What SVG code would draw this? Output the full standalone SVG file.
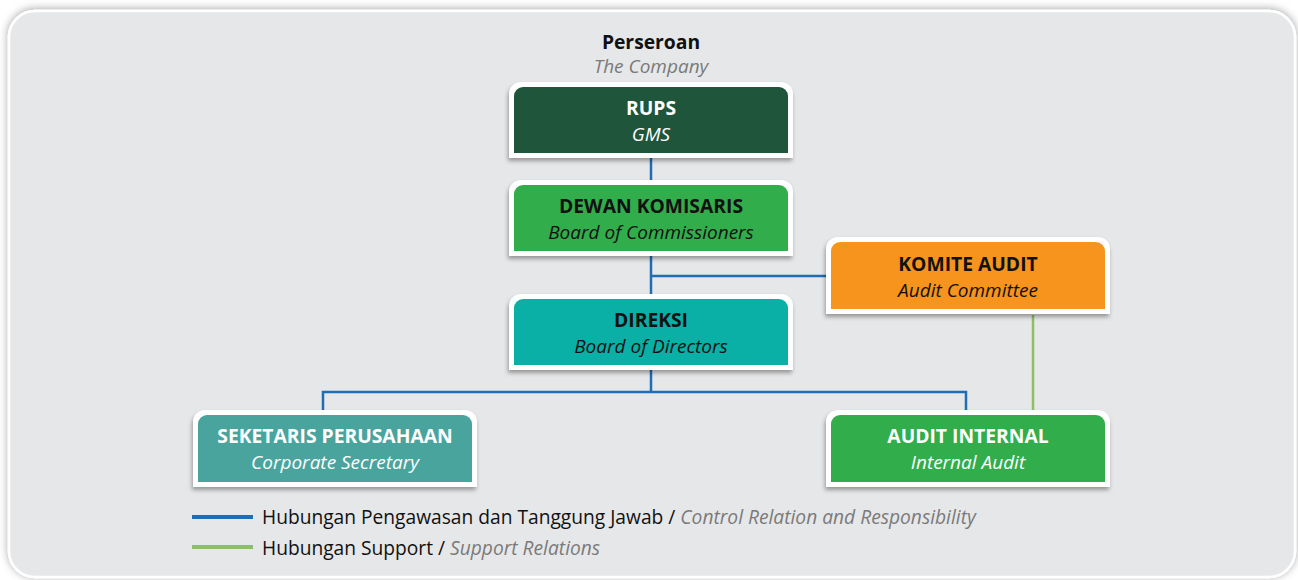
<svg xmlns="http://www.w3.org/2000/svg" width="1298" height="580" viewBox="0 0 1298 580">
<defs>
<filter id="panelShadow" x="-5%" y="-5%" width="110%" height="110%">
<feDropShadow dx="0" dy="-1" stdDeviation="4" flood-color="#000" flood-opacity="0.35"/>
</filter>
<filter id="boxShadow" x="-10%" y="-10%" width="120%" height="130%">
<feDropShadow dx="-1" dy="3" stdDeviation="2" flood-color="#000" flood-opacity="0.35"/>
</filter>
<style>
.title{font-family:"Open Sans","Noto Sans",sans-serif;font-weight:bold;font-size:19.3px;text-anchor:middle}
.sub{font-family:"Open Sans","Noto Sans",sans-serif;font-style:italic;font-size:19px;text-anchor:middle}
.white{fill:#ffffff}
.black{fill:#111111}
.outer{fill:#ffffff;filter:url(#boxShadow)}
.blue{stroke:#1f6db5;stroke-width:2.5;fill:none}
.green{stroke:#8dc063;stroke-width:2.5;fill:none}
.legend{font-family:"Open Sans","Noto Sans",sans-serif;font-size:19.2px;fill:#111111}
.legendEn{font-style:italic;fill:#7a7a7a}
</style>
</defs>
<rect width="1298" height="580" fill="#ffffff"/>
<rect x="9" y="11" width="1286" height="566" rx="26" ry="26" fill="#e6e7e8" stroke="#ffffff" stroke-width="2.5" filter="url(#panelShadow)"/>

<g id="header">
<text x="651" y="49" class="title black">Perseroan</text>
<text x="651" y="73" class="sub" fill="#7a7a7a">The Company</text>
</g>

<g id="connectors">
<path class="blue" d="M651 158 V180"/>
<path class="blue" d="M651 256 V294 M651 276 H826"/>
<path class="blue" d="M651 370 V392 M323 410 V392 H966 V410"/>
<path class="green" d="M1033 315 V410"/>
</g>

<g id="rups">
<path class="outer" d="M509 158 V94 A12 12 0 0 1 521 82 H781 A12 12 0 0 1 793 94 V158 Z"/>
<path fill="#1f553b" d="M514 153 V96 A9 9 0 0 1 523 87 H779 A9 9 0 0 1 788 96 V153 Z"/>
<text x="651" y="115" class="title white">RUPS</text>
<text x="651" y="141" class="sub white">GMS</text>
</g>

<g id="dewan-komisaris">
<path class="outer" d="M509 256 V192 A12 12 0 0 1 521 180 H781 A12 12 0 0 1 793 192 V256 Z"/>
<path fill="#31ad4b" d="M514 251 V194 A9 9 0 0 1 523 185 H779 A9 9 0 0 1 788 194 V251 Z"/>
<text x="651" y="213" class="title black">DEWAN KOMISARIS</text>
<text x="651" y="239" class="sub black">Board of Commissioners</text>
</g>

<g id="komite-audit">
<path class="outer" d="M826 314 V249 A12 12 0 0 1 838 237 H1098 A12 12 0 0 1 1110 249 V314 Z"/>
<path fill="#f7941d" d="M831 309 V251 A9 9 0 0 1 840 242 H1096 A9 9 0 0 1 1105 251 V309 Z"/>
<text x="968" y="271" class="title black">KOMITE AUDIT</text>
<text x="968" y="297" class="sub black">Audit Committee</text>
</g>

<g id="direksi">
<path class="outer" d="M509 370 V306 A12 12 0 0 1 521 294 H781 A12 12 0 0 1 793 306 V370 Z"/>
<path fill="#0aafa5" d="M514 365 V308 A9 9 0 0 1 523 299 H779 A9 9 0 0 1 788 308 V365 Z"/>
<text x="651" y="327" class="title black">DIREKSI</text>
<text x="651" y="353" class="sub black">Board of Directors</text>
</g>

<g id="sekretaris-perusahaan">
<path class="outer" d="M193 487 V422 A12 12 0 0 1 205 410 H465 A12 12 0 0 1 477 422 V487 Z"/>
<path fill="#4aa49e" d="M198 482 V424 A9 9 0 0 1 207 415 H463 A9 9 0 0 1 472 424 V482 Z"/>
<text x="335" y="443" class="title white">SEKETARIS PERUSAHAAN</text>
<text x="335" y="469" class="sub white">Corporate Secretary</text>
</g>

<g id="audit-internal">
<path class="outer" d="M826 487 V422 A12 12 0 0 1 838 410 H1098 A12 12 0 0 1 1110 422 V487 Z"/>
<path fill="#31ad4b" d="M831 482 V424 A9 9 0 0 1 840 415 H1096 A9 9 0 0 1 1105 424 V482 Z"/>
<text x="968" y="443" class="title white">AUDIT INTERNAL</text>
<text x="968" y="469" class="sub white">Internal Audit</text>
</g>

<g id="legend">
<line x1="192" y1="517" x2="253" y2="517" stroke="#1f6db5" stroke-width="4"/>
<text x="262" y="524" class="legend">Hubungan Pengawasan dan Tanggung Jawab / <tspan class="legendEn">Control Relation and Responsibility</tspan></text>
<line x1="192" y1="547" x2="253" y2="547" stroke="#8dc063" stroke-width="4"/>
<text x="262" y="555" class="legend">Hubungan Support / <tspan class="legendEn">Support Relations</tspan></text>
</g>
</svg>
